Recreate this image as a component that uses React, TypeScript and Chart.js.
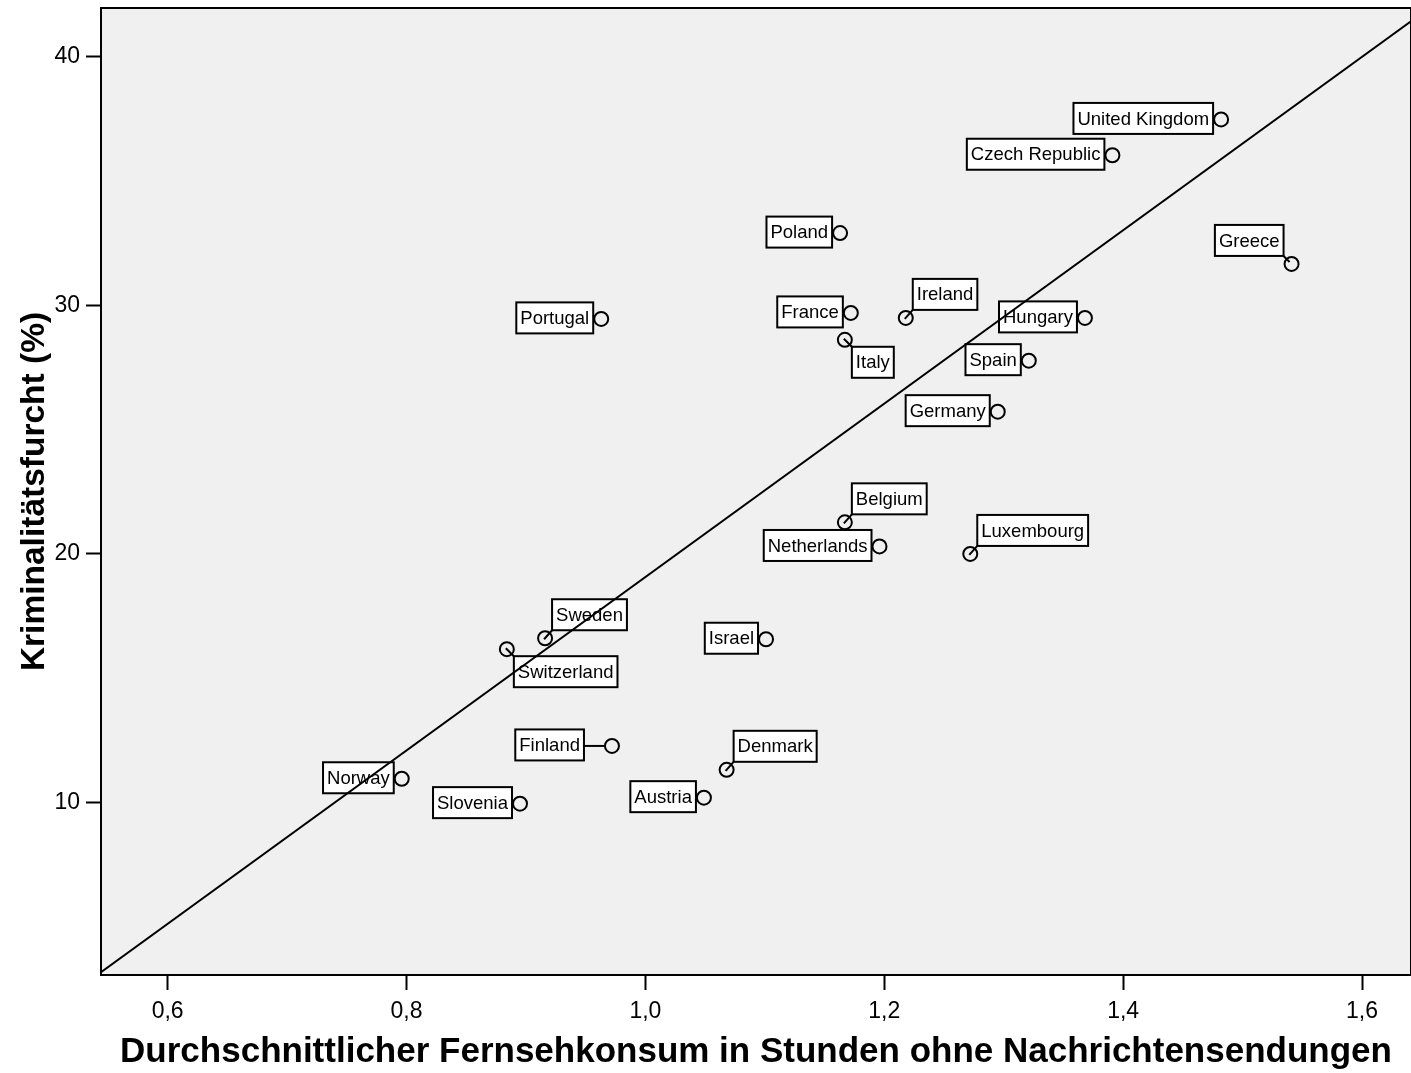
import React, { useEffect, useRef } from "react";
import { Chart, registerables } from "chart.js";

Chart.register(...registerables);

// ---- data ----
const countries = [
  "United Kingdom", "Czech Republic", "Poland", "Greece", "Portugal", "France",
  "Ireland", "Hungary", "Italy", "Spain", "Germany", "Belgium", "Netherlands",
  "Luxembourg", "Sweden", "Switzerland", "Israel", "Finland", "Denmark",
  "Norway", "Slovenia", "Austria",
];
const tvHours = [
  1.482, 1.391, 1.163, 1.541, 0.963, 1.172,
  1.218, 1.368, 1.167, 1.321, 1.295, 1.167, 1.196,
  1.272, 0.916, 0.884, 1.101, 0.972, 1.068,
  0.796, 0.895, 1.049,
];
const crimeFear = [
  37.47, 36.03, 32.9, 31.66, 29.45, 29.69,
  29.49, 29.49, 28.61, 27.77, 25.72, 21.27, 20.3,
  20.0, 16.61, 16.17, 16.57, 12.28, 11.32,
  10.96, 9.96, 10.2,
];
// label placement relative to its point (L = left, TR = top-right, BR = bottom-right, TL = top-left, LL = left with leader)
const labelPlacement = [
  "L", "L", "L", "TL", "L", "L",
  "TR", "L", "BR", "L", "L", "TR", "L",
  "TR", "TR", "BR", "L", "LL", "TR",
  "L", "L", "L",
];
const xTicks = [0.6, 0.8, 1.0, 1.2, 1.4, 1.6];
const yTicks = [10, 20, 30, 40];
const xRange = [0.5442, 1.641];
const yRange = [3.07, 41.95];
const fitIntercept = -15.79;
const fitSlope = 34.86;

const xTitle = "Durchschnittlicher Fernsehkonsum in Stunden ohne Nachrichtensendungen";
const yTitle = "Kriminalitätsfurcht (%)";

const FONT = "'Liberation Sans', Arial, Helvetica, sans-serif";

const chartPlugin = {
  id: "spssStyle",
  beforeDraw(chart: any) {
    const { ctx, chartArea: a } = chart;
    ctx.save();
    ctx.fillStyle = "#f0f0f0";
    ctx.fillRect(a.left, a.top, a.right - a.left, a.bottom - a.top);
    ctx.restore();
  },
  beforeDatasetsDraw(chart: any) {
    const { ctx } = chart;
    const xs = chart.scales.x;
    const ys = chart.scales.y;
    ctx.save();
    ctx.font = `18.5px ${FONT}`;
    ctx.lineWidth = 2;
    ctx.strokeStyle = "#000";
    const h = 31;
    countries.forEach((name, i) => {
      const px = xs.getPixelForValue(tvHours[i]);
      const py = ys.getPixelForValue(crimeFear[i]);
      const w = ctx.measureText(name).width + 8;
      const p = labelPlacement[i];
      let left = 0, top = 0;
      let lead: number[] | null = null;
      if (p === "L") {
        left = px - 8 - w; top = py - h / 2 - 1;
      } else if (p === "LL") {
        left = px - 28 - w; top = py - h / 2 - 1;
        lead = [px - 28, py, px - 7, py];
      } else if (p === "TR") {
        left = px + 7; top = py - 8 - h;
        lead = [px + 7, py - 8, px - 1, py + 1];
      } else if (p === "BR") {
        left = px + 7; top = py + 7;
        lead = [px + 7, py + 7, px - 1, py - 1];
      } else if (p === "TL") {
        left = px - 8 - w; top = py - 8 - h;
        lead = [px - 8, py - 8, px - 2, py - 2];
      }
      ctx.fillStyle = "#ffffff";
      ctx.fillRect(left, top, w, h);
      ctx.strokeRect(left, top, w, h);
      if (lead) {
        ctx.beginPath();
        ctx.moveTo(lead[0], lead[1]);
        ctx.lineTo(lead[2], lead[3]);
        ctx.stroke();
      }
      ctx.fillStyle = "#000";
      ctx.textAlign = "left";
      ctx.textBaseline = "middle";
      ctx.fillText(name, left + 4, top + h / 2 + 1);
    });
    ctx.restore();
  },
  afterDraw(chart: any) {
    const { ctx, chartArea: a } = chart;
    ctx.save();
    ctx.strokeStyle = "#000";
    ctx.lineWidth = 2;
    ctx.strokeRect(a.left, a.top, a.right - a.left, a.bottom - a.top);
    ctx.restore();
  },
};

const zeroPadding = (scale: any) => {
  scale.paddingTop = 0;
  scale.paddingBottom = 0;
  scale.paddingLeft = 0;
  scale.paddingRight = 0;
};

export default function App() {
  const canvasRef = useRef<HTMLCanvasElement | null>(null);

  useEffect(() => {
    document.body.style.margin = "0";
    document.body.style.overflow = "hidden";
    document.documentElement.style.overflow = "hidden";
    const canvas = canvasRef.current;
    if (!canvas) return;

    const points = tvHours.map((x, i) => ({ x, y: crimeFear[i] }));
    const fitLine = xRange.map((x) => ({ x, y: fitIntercept + fitSlope * x }));

    const chart = new Chart(canvas, {
      type: "scatter",
      data: {
        datasets: [
          {
            label: "Länder",
            data: points,
            pointRadius: 7,
            pointHoverRadius: 7,
            pointBorderWidth: 2,
            pointBorderColor: "#000",
            pointBackgroundColor: "rgba(0,0,0,0)",
            showLine: false,
            order: 2,
          },
          {
            type: "line",
            label: "Linie",
            data: fitLine,
            borderColor: "#000",
            borderWidth: 2,
            pointRadius: 0,
            fill: false,
            order: 1,
          } as any,
        ],
      },
      options: {
        animation: false,
        responsive: true,
        maintainAspectRatio: false,
        layout: { autoPadding: false, padding: { top: 8, right: 0, left: 0, bottom: 0 } },
        plugins: {
          legend: { display: false },
          tooltip: { enabled: false },
        },
        scales: {
          x: {
            type: "linear",
            min: xRange[0],
            max: xRange[1],
            afterBuildTicks: (scale: any) => {
              scale.ticks = xTicks.map((v) => ({ value: v }));
            },
            afterFit: (scale: any) => {
              scale.height = 98;
              zeroPadding(scale);
            },
            border: { display: false },
            grid: {
              drawOnChartArea: false,
              drawTicks: true,
              tickLength: 15,
              tickWidth: 2,
              tickColor: "#000",
            },
            ticks: {
              color: "#000",
              padding: 8,
              maxRotation: 0,
              font: { family: FONT, size: 23 },
              callback: (v: any) => Number(v).toFixed(1).replace(".", ","),
            },
            title: {
              display: true,
              text: xTitle,
              color: "#000",
              padding: { top: 0, bottom: 0 },
              font: { family: FONT, size: 35, weight: "bold" },
            },
          },
          y: {
            type: "linear",
            min: yRange[0],
            max: yRange[1],
            afterBuildTicks: (scale: any) => {
              scale.ticks = yTicks.map((v) => ({ value: v }));
            },
            afterFit: (scale: any) => {
              scale.width = 101;
              zeroPadding(scale);
            },
            border: { display: false },
            grid: {
              drawOnChartArea: false,
              drawTicks: true,
              tickLength: 15,
              tickWidth: 2,
              tickColor: "#000",
            },
            ticks: {
              color: "#000",
              padding: 6,
              font: { family: FONT, size: 23 },
              callback: (v: any) => String(v),
            },
            title: {
              display: true,
              text: yTitle,
              color: "#000",
              padding: { top: 15, bottom: 0 },
              font: { family: FONT, size: 33.5, weight: "bold" },
            },
          },
        },
      },
      plugins: [chartPlugin],
    });

    return () => chart.destroy();
  }, []);

  return (
    <div style={{ width: 1411, height: 1073, position: "relative", background: "#fff" }}>
      <canvas ref={canvasRef} />
    </div>
  );
}
